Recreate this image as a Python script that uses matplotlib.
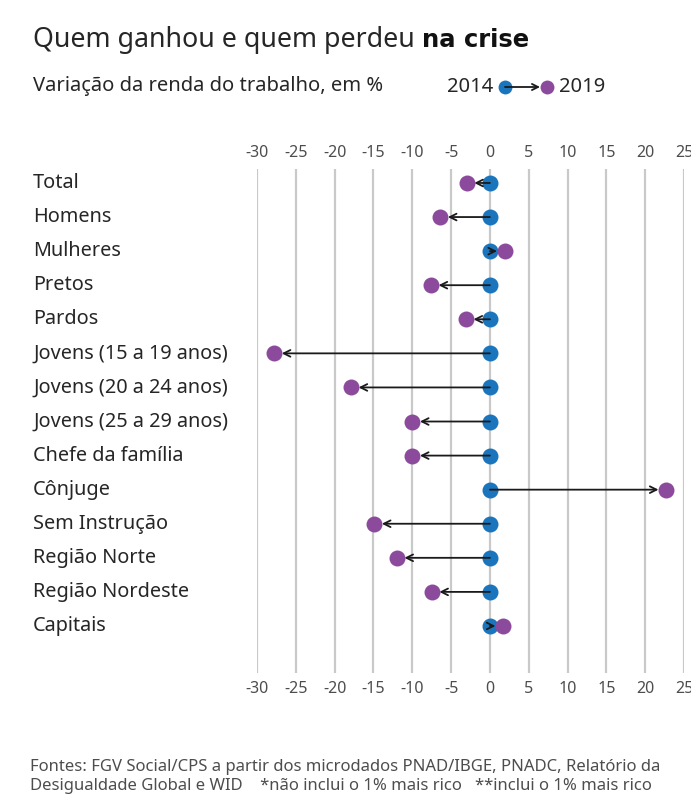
import matplotlib
matplotlib.use("Agg")
import matplotlib.pyplot as plt
import matplotlib.transforms as mtransforms

plt.rcParams['font.family'] = ['Noto Sans', 'DejaVu Sans']
plt.rcParams['axes.unicode_minus'] = False

categorias = ["Total", "Homens", "Mulheres", "Pretos", "Pardos",
              "Jovens (15 a 19 anos)", "Jovens (20 a 24 anos)",
              "Jovens (25 a 29 anos)", "Chefe da família", "Cônjuge",
              "Sem Instrução", "Região Norte", "Região Nordeste", "Capitais"]
v2014 = [0, 0, 0, 0, 0, 0, 0, 0, 0, 0, 0, 0, 0, 0]
v2019 = [-3.0, -6.4, 1.9, -7.6, -3.1, -27.8, -17.9, -10.0, -10.0, 22.7,
         -14.9, -12.0, -7.5, 1.7]
ticks = [-30, -25, -20, -15, -10, -5, 0, 5, 10, 15, 20, 25]

AZUL = "#1b75bc"
ROXO = "#8c4a9c"
CINZA = "#c9c9c9"
TEXTO = "#262626"

W, H = 691, 800
fig = plt.figure(figsize=(W / 100, H / 100), dpi=100)
fig.patch.set_facecolor("white")

# eixo: -30 em x=257px, 25 em x=684px; linhas de 169 a 673px
ax = fig.add_axes([257 / W, 1 - 673 / H, (684 - 257) / W, (673 - 169) / H])
ax.set_xlim(-30, 25)
ax.set_ylim(14.38, -0.41)
for s in ax.spines.values():
    s.set_visible(False)
ax.set_yticks([])
ax.set_xticks(ticks)
ax.set_xticklabels([str(t) for t in ticks])
ax.tick_params(axis='x', length=0, labeltop=True, labelbottom=True,
               labelsize=11.5, labelcolor="#4d4d4d", pad=6)
for t in ticks:
    ax.axvline(t, color=CINZA, lw=1.6, zorder=0)

for i, (a, b) in enumerate(zip(v2014, v2019)):
    ax.plot([a], [i], 'o', color=AZUL, ms=11.5, mec='none', zorder=2, clip_on=False)
    ax.plot([b], [i], 'o', color=ROXO, ms=11.5, mec='none', zorder=4, clip_on=False)
    ax.annotate("", xy=(b, i), xytext=(a, i),
                arrowprops=dict(arrowstyle='->', color='#1a1a1a', lw=1.3,
                                shrinkA=0, shrinkB=5.5, mutation_scale=12),
                zorder=3)

# rótulos das categorias
trans = mtransforms.blended_transform_factory(fig.transFigure, ax.transData)
for i, c in enumerate(categorias):
    ax.text(33 / W, i, c, transform=trans, ha='left', va='center',
            fontsize=14.3, color=TEXTO)

# título (parte final em negrito)
t1 = fig.text(33 / W, 1 - 40 / H, "Quem ganhou e quem perdeu ", fontsize=19.3,
              color=TEXTO, va='center', ha='left')
fig.canvas.draw()
bb = t1.get_window_extent(renderer=fig.canvas.get_renderer())
fig.text(bb.x1 / W, 1 - 40 / H, "na crise", fontsize=17.5, fontweight='bold',
         family=['DejaVu Sans'], color="#111111", va='center', ha='left')
fig.text(33 / W, 1 - 86 / H, "Variação da renda do trabalho, em %",
         fontsize=14.5, color=TEXTO, va='center', ha='left')

# legenda
fig.text(493 / W, 1 - 87 / H, "2014", fontsize=14.5, color=TEXTO,
         va='center', ha='right')
fig.text(559 / W, 1 - 87 / H, "2019", fontsize=14.5, color=TEXTO,
         va='center', ha='left')
leg = fig.add_axes([495 / W, 1 - 97 / H, 62 / W, 20 / H])
leg.set_axis_off()
leg.set_xlim(0, 62)
leg.set_ylim(0, 1)
leg.annotate("", xy=(52, 0.5), xytext=(10, 0.5),
             arrowprops=dict(arrowstyle='->', color='#1a1a1a', lw=1.3,
                             shrinkA=0, shrinkB=5, mutation_scale=11), zorder=3)
leg.plot([10], [0.5], 'o', color=AZUL, ms=10, mec='none', zorder=2, clip_on=False)
leg.plot([52], [0.5], 'o', color=ROXO, ms=10, mec='none', zorder=4, clip_on=False)

# fontes
fig.text(30 / W, 1 - 767 / H,
         "Fontes: FGV Social/CPS a partir dos microdados PNAD/IBGE, PNADC, Relatório da",
         fontsize=12, color="#4d4d4d", va='center', ha='left')
fig.text(30 / W, 1 - 786 / H,
         "Desigualdade Global e WID    *não inclui o 1% mais rico   **inclui o 1% mais rico",
         fontsize=12, color="#4d4d4d", va='center', ha='left')

fig.savefig("out.png", dpi=100, facecolor="white")
